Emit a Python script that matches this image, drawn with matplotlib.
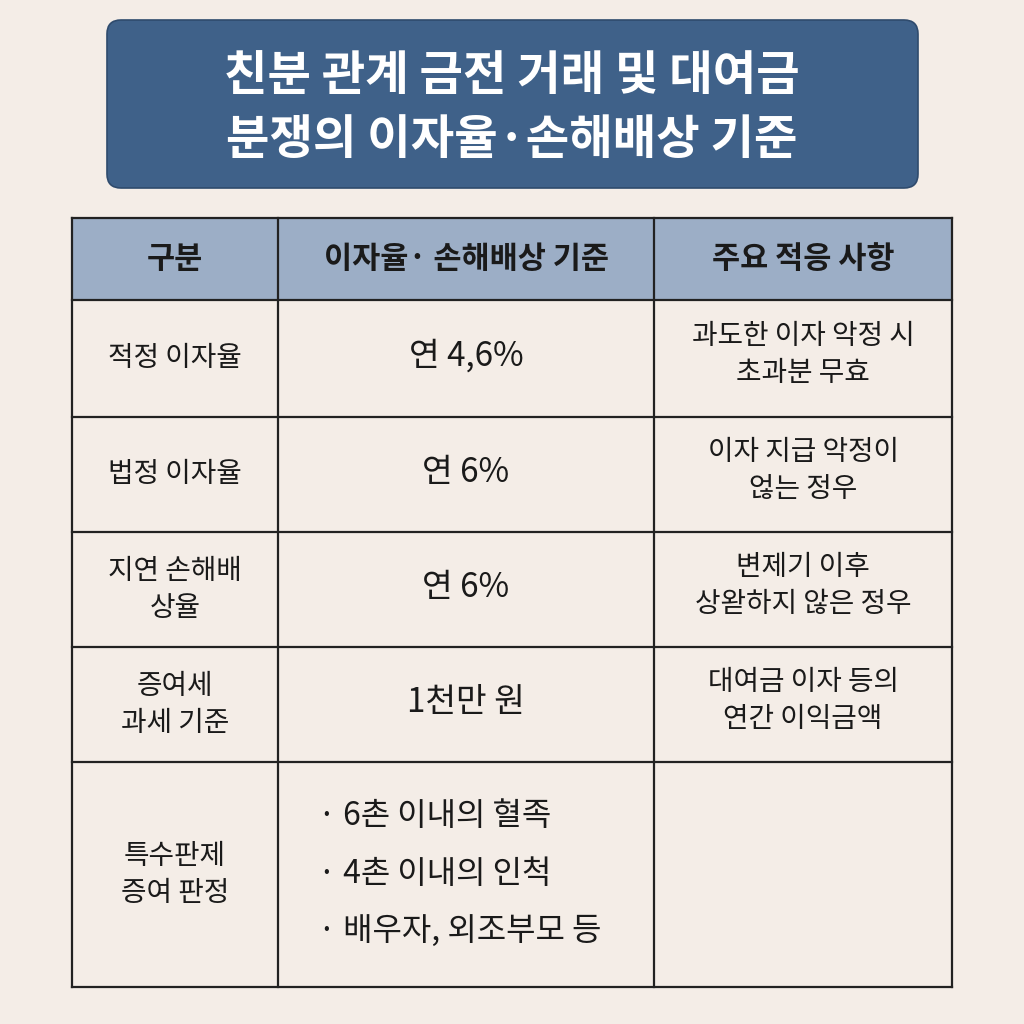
import matplotlib.pyplot as plt
from matplotlib.patches import FancyBboxPatch, Rectangle

plt.rcParams["font.family"] = "Noto Sans CJK KR"

title_lines = ["친분 관계 금전 거래 및 대여금", "분쟁의 이자율·손해배상 기준"]
headers = ["구분", "이자율· 손해배상 기준", "주요 적응 사항"]
categories = ["적정 이자율", "법정 이자율", "지연 손해배\n상율", "증여세\n과세 기준", "특수판제\n증여 판정"]
criteria = ["연 4,6%", "연 6%", "연 6%", "1천만 원", ""]
criteria_bullets = ["· 6촌 이내의 혈족", "· 4촌 이내의 인척", "· 배우자, 외조부모 등"]
applications = ["과도한 이자 악정 시\n초과분 무효", "이자 지급 악정이\n얺는 정우",
                "변제기 이후\n상왇하지 않은 정우", "대여금 이자 등의\n연간 이익금액", ""]

col_edges = [72, 278, 654, 952]
row_edges = [218, 300, 417, 532, 647, 762, 987]

bg = "#F4EDE7"
fig = plt.figure(figsize=(10.24, 10.24), dpi=100, facecolor=bg)
ax = fig.add_axes([0, 0, 1, 1])
ax.set_xlim(0, 1024)
ax.set_ylim(1024, 0)
ax.axis("off")

# title box
ax.add_patch(FancyBboxPatch((107, 20), 811, 168, boxstyle="round,pad=0,rounding_size=14",
                            facecolor="#3F6189", edgecolor="#2F4B6D", linewidth=1.2))
for i, line in enumerate(title_lines):
    ax.text(512, 76 + i * 64, line, ha="center", va="center", color="white",
            fontsize=34, fontweight="bold")

# header
ax.add_patch(Rectangle((col_edges[0], row_edges[0]), col_edges[-1] - col_edges[0],
                       row_edges[1] - row_edges[0], facecolor="#9CAEC6", edgecolor="none"))
for c, h in enumerate(headers):
    cx = (col_edges[c] + col_edges[c + 1]) / 2
    ax.text(cx, (row_edges[0] + row_edges[1]) / 2, h, ha="center", va="center",
            fontsize=22, fontweight="bold", color="#1a1a1a")

# grid lines
for x in col_edges:
    ax.plot([x, x], [row_edges[0], row_edges[-1]], color="#222222", lw=1.6)
for y in row_edges:
    ax.plot([col_edges[0], col_edges[-1]], [y, y], color="#222222", lw=1.6)

# body
for r in range(len(categories)):
    cy = (row_edges[r + 1] + row_edges[r + 2]) / 2
    ax.text((col_edges[0] + col_edges[1]) / 2, cy, categories[r], ha="center", va="center",
            fontsize=20, color="#1a1a1a", linespacing=1.3)
    if criteria[r]:
        ax.text((col_edges[1] + col_edges[2]) / 2, cy - 2, criteria[r], ha="center", va="center",
                fontsize=24, color="#1a1a1a")
    if applications[r]:
        ax.text((col_edges[2] + col_edges[3]) / 2, cy - 4, applications[r], ha="center", va="center",
                fontsize=20, color="#1a1a1a", linespacing=1.3)

# bullets in last row
for i, b in enumerate(criteria_bullets):
    ax.text(318, 816 + i * 58, b, ha="left", va="center", fontsize=23, color="#1a1a1a")

fig.savefig("out.png", dpi=100, facecolor=bg)
